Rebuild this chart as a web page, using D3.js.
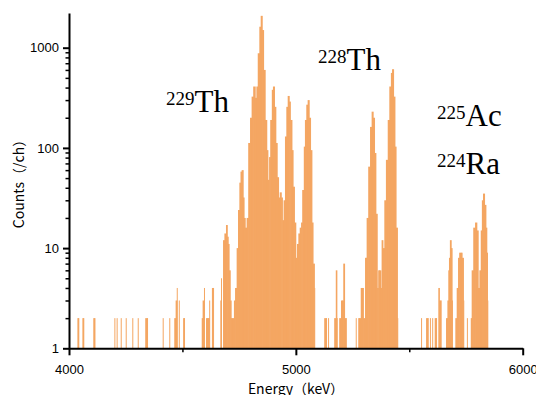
<!DOCTYPE html>
<html><head><meta charset="utf-8">
<script src="https://cdn.jsdelivr.net/npm/d3@7"></script>
<style>body{margin:0;background:#fff}svg{display:block}</style>
</head><body><svg id="c" width="536" height="395"></svg>
<script>
// Channel energies (keV) and counts per channel
const energies = [
4037,4041,4059,4063,4107,4112,4200,4210,4228,4250,4279,4303,4336,4344,4413,4442,4464,4470,4475,4484,4503,4507,
4585,4589,4595,4604,4610,4614,4618,4630,4635,
4667,4670,4679,4685,4692,4697,4701,4705,4710,4714,4721,4727,4732,4739,4745,4751,4756,4761,4767,4771,4776,4783,
4790,4798,4805,4812,4820,4826,4832,4839,4845,4851,4857,4864,4871,4876,4882,4887,4894,4899,4905,4911,4917,4923,
4929,4935,4940,4946,4952,4958,4964,4970,4975,4982,4987,4993,4999,5005,5011,5017,5023,5028,5035,5040,5046,5052,
5058,5064,5070,5075,5081,
5125,5133,5142,5169,5176,5180,5191,5199,5205,5209,5214,5220,5264,5275,5280,5286,5293,5297,
5305,5309,5312,5319,5327,5334,5340,5346,5352,5358,5363,5368,5374,5378,5383,5390,5397,5405,5412,5419,5424,5430,
5436,5441,5447,
5552,5574,5581,5591,5601,5612,5618,5628,5632,5638,5662,5668,5672,5675,5679,5684,5688,5703,5709,5715,5720,5727,
5732,5738,5754,5771,5775,5782,5790,5797,5803,5809,5815,5820,5825,5831,5837,5841,5844];
const counts = [
2,2,2,2,2,2,2,2,2,2,2,2,2,2,2,2,2,3,4,3,2,2,
2,3,4,2,2,2,3,4,4,
3,5,12,14,17,13,11,6,3,2,2,3,4,10,24,45,58,60,32,20,16,20,
112,200,325,410,316,410,880,1620,2080,1500,600,190,95,48,81,190,380,410,257,112,51,32,
36,32,19,30,130,257,330,290,190,95,41,18,8,11,14,16,18,38,103,190,270,300,
200,95,18,7,4,
2,2,2,2,6,2,2,3,3,7,2,2,2,2,2,4,4,2,
8,8,20,65,162,230,200,89,22,4,6,6,4,12,10,30,76,190,410,560,610,325,
103,16,2,
2,2,2,2,2,2,2,4,3,3,2,3,6,8,12,10,3,2,4,8,9,9,
8,3,2,2,6,16,18,15,4,6,15,30,35,27,16,9,3];

const xTicks = [4000, 5000, 6000];
const xMinorTicks = [4500, 5500];
const yTicks = [1, 10, 100, 1000];
const isotopeMass = ["229", "228", "225", "224"];
const isotopeSymbol = ["Th", "Th", "Ac", "Ra"];

// layout
const labelPos = [[166,112],[318,70],[437,126],[437,174]];
const barColor = "#F4A662";

const svg = d3.select("#c");
const x = d3.scaleLinear().domain([4000, 6000]).range([69, 522.7]);
const y = d3.scaleLog().domain([1, 2220]).range([348.3, 13]);

const rows = energies.map((e, i) => ({e, c: counts[i], next: energies[i + 1]}));
svg.append("g").selectAll("rect").data(rows).join("rect")
  .attr("x", d => x(d.e))
  .attr("width", d => {
    const gap = d.next !== undefined ? d.next - d.e : Infinity;
    const w = gap <= 8 ? gap + 3 : 4.4;
    return x(d.e + w) - x(d.e);
  })
  .attr("y", d => y(d.c))
  .attr("height", d => y(1) - y(d.c))
  .attr("fill", barColor);

const tickFont = "'Liberation Sans', Arial, sans-serif";

// minor y ticks
const yMinor = [];
yTicks.slice(0, 3).forEach(d => { for (let k = 2; k <= 9; k++) yMinor.push(d * k); });
const gyMinor = svg.append("g").attr("transform", "translate(69,0)")
  .call(d3.axisLeft(y).tickValues(yMinor).tickFormat("").tickSize(3.5).tickSizeOuter(0));
gyMinor.select(".domain").remove();
gyMinor.selectAll(".tick line").attr("stroke-width", 1.5).attr("stroke", "#000");

const gy = svg.append("g").attr("transform", "translate(69,0)")
  .call(d3.axisLeft(y).tickValues(yTicks).tickFormat(d3.format("d")).tickSize(6).tickPadding(4).tickSizeOuter(0));
gy.select(".domain").attr("stroke-width", 2).attr("stroke", "#000");
gy.selectAll(".tick line").attr("stroke-width", 2).attr("stroke", "#000");
gy.selectAll(".tick text").attr("font-family", tickFont).attr("font-size", 13).attr("fill", "#000");

const gxMinor = svg.append("g").attr("transform", "translate(0,348.3)")
  .call(d3.axisBottom(x).tickValues(xMinorTicks).tickFormat("").tickSize(4).tickSizeOuter(0));
gxMinor.select(".domain").remove();
gxMinor.selectAll(".tick line").attr("stroke-width", 1.5).attr("stroke", "#000");

const gx = svg.append("g").attr("transform", "translate(0,348.3)")
  .call(d3.axisBottom(x).tickValues(xTicks).tickFormat(d3.format("d")).tickSize(7).tickPadding(9).tickSizeOuter(0));
gx.select(".domain").attr("stroke-width", 2).attr("stroke", "#000");
gx.selectAll(".tick line").attr("stroke-width", 2).attr("stroke", "#000");
gx.selectAll(".tick text").attr("font-family", tickFont).attr("font-size", 13).attr("fill", "#000");

const cjk = "'Noto Sans CJK JP', 'Noto Sans', sans-serif";
svg.append("text").attr("x", 296).attr("y", 393.5).attr("text-anchor", "middle")
  .attr("font-family", cjk).attr("font-size", 14).attr("fill", "#000").text("Energy（keV）");
svg.append("text").attr("transform", "translate(23.6,180.5) rotate(-90)").attr("text-anchor", "middle")
  .attr("font-family", cjk).attr("font-size", 14).attr("fill", "#000").text("Counts（/ch）");

// isotope labels
const serif = "'Liberation Serif', 'Times New Roman', serif";
isotopeMass.forEach((m, i) => {
  const t = svg.append("text").attr("x", labelPos[i][0]).attr("y", labelPos[i][1])
    .attr("font-family", serif).attr("fill", "#000");
  t.append("tspan").attr("font-size", 19).attr("dy", -7).text(m);
  t.append("tspan").attr("font-size", 31).attr("dy", 7).text(isotopeSymbol[i]);
});
</script></body></html>
